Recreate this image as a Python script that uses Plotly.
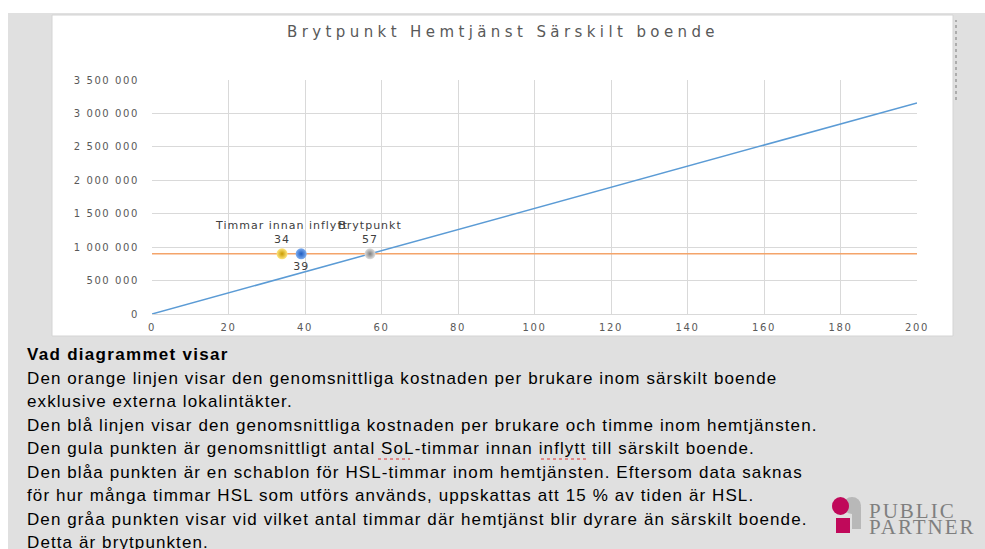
import plotly.graph_objects as go

W, H = 985, 549

# ---- data ----
hours_line = [0, 200]
hemtjanst_cost = [0, 3158000]          # blue line: cost per user by hours in home care
sarskilt_cost = [900000, 900000]       # orange line: average cost per user in special housing
point_names = ["Timmar innan inflytt", "", "Brytpunkt"]
point_hours = [34, 39, 57]
point_cost = [900000, 900000, 900000]
x_ticks = [0, 20, 40, 60, 80, 100, 120, 140, 160, 180, 200]
y_ticks = [0, 500000, 1000000, 1500000, 2000000, 2500000, 3000000, 3500000]

chart_title = "Brytpunkt Hemtjänst Särskilt boende"
heading = "Vad diagrammet visar"
body_lines = [
    "Den orange linjen visar den genomsnittliga kostnaden per brukare inom särskilt boende",
    "exklusive externa lokalintäkter.",
    "Den blå linjen visar den genomsnittliga kostnaden per brukare och timme inom hemtjänsten.",
    "Den gula punkten är genomsnittligt antal SoL-timmar innan inflytt till särskilt boende.",
    "Den blåa punkten är en schablon för HSL-timmar inom hemtjänsten. Eftersom data saknas",
    "för hur många timmar HSL som utförs används, uppskattas att 15 % av tiden är HSL.",
    "Den gråa punkten visar vid vilket antal timmar där hemtjänst blir dyrare än särskilt boende.",
    "Detta är brytpunkten.",
]

def px(x):
    return x / W

def py(y):
    return 1 - y / H

fig = go.Figure()

fig.add_trace(go.Scatter(x=hours_line, y=hemtjanst_cost, mode="lines",
                         line=dict(color="#5B9BD5", width=1.5), showlegend=False, hoverinfo="skip"))
fig.add_trace(go.Scatter(x=hours_line, y=sarskilt_cost, mode="lines",
                         line=dict(color="#F4A46A", width=1.5), showlegend=False, hoverinfo="skip"))

marker_cols = [("#FFE680", "#C89A00"), ("#7FAEF0", "#1F5CC0"), ("#E0E0E0", "#7F7F7F")]
positions = ["top center", "bottom center", "top center"]
for i in range(3):
    label = (point_names[i] + "<br>" if point_names[i] else "") + str(point_hours[i])
    fig.add_trace(go.Scatter(
        x=[point_hours[i]], y=[point_cost[i]], mode="markers+text",
        marker=dict(size=11, color=marker_cols[i][0],
                    gradient=dict(type="radial", color=marker_cols[i][1]),
                    line=dict(width=0)),
        text=[label], textposition=positions[i],
        textfont=dict(family="DejaVu Sans", size=11, color="#404040"),
        showlegend=False, hoverinfo="skip"))

shapes = [
    # gray slide background
    dict(type="rect", xref="paper", yref="paper", x0=px(8), x1=px(990), y0=py(555), y1=py(13),
         fillcolor="#E0E0E0", line=dict(width=0), layer="below"),
    # white chart box
    dict(type="rect", xref="paper", yref="paper", x0=px(52), x1=px(953), y0=py(336), y1=py(15),
         fillcolor="#FFFFFF", line=dict(color="#D4D4D4", width=1), layer="below"),
    # dotted handle line at right
    dict(type="line", xref="paper", yref="paper", x0=px(956), x1=px(956), y0=py(100), y1=py(20),
         line=dict(color="#9A9A9A", width=1.5, dash="dot"), layer="below"),
    # spell-check underlines
    dict(type="line", xref="paper", yref="paper", x0=px(378), x1=px(410), y0=py(459), y1=py(459),
         line=dict(color="#E03030", width=1, dash="dot"), layer="above"),
    dict(type="line", xref="paper", yref="paper", x0=px(541), x1=px(588), y0=py(459), y1=py(459),
         line=dict(color="#E03030", width=1, dash="dot"), layer="above"),
    # logo icon
    dict(type="circle", xref="paper", yref="paper", x0=px(843), x1=px(861), y0=py(514), y1=py(497),
         fillcolor="#B8B8B8", line=dict(width=0), layer="above"),
    dict(type="rect", xref="paper", yref="paper", x0=px(852), x1=px(861), y0=py(529), y1=py(507),
         fillcolor="#B8B8B8", line=dict(width=0), layer="above"),
    dict(type="circle", xref="paper", yref="paper", x0=px(832), x1=px(849), y0=py(515), y1=py(497),
         fillcolor="#C0095A", line=dict(width=0), layer="above"),
    dict(type="rect", xref="paper", yref="paper", x0=px(836), x1=px(850), y0=py(533), y1=py(518),
         fillcolor="#C0095A", line=dict(width=0), layer="above"),
]

annotations = [
    dict(xref="paper", yref="paper", x=px(25), y=py(354), xanchor="left", yanchor="middle",
         text="<b>" + heading + "</b>", showarrow=False,
         font=dict(family="Liberation Sans", size=17, color="#000000")),
    dict(xref="paper", yref="paper", x=px(867), y=py(511), xanchor="left", yanchor="middle",
         text="PUBLIC", showarrow=False,
         font=dict(family="Liberation Serif", size=21, color="#7F7F7F")),
    dict(xref="paper", yref="paper", x=px(867), y=py(527), xanchor="left", yanchor="middle",
         text="PARTNER", showarrow=False,
         font=dict(family="Liberation Serif", size=21, color="#7F7F7F")),
]
for k, line in enumerate(body_lines):
    annotations.append(dict(xref="paper", yref="paper", x=px(25), y=py(378 + 23.5 * k),
                            xanchor="left", yanchor="middle", text=line, showarrow=False,
                            font=dict(family="Liberation Sans", size=17, color="#000000")))

axis_font = dict(family="DejaVu Sans", size=10, color="#595959")
fig.update_layout(
    width=W, height=H,
    margin=dict(l=0, r=0, t=0, b=0, pad=0),
    paper_bgcolor="#FFFFFF", plot_bgcolor="#FFFFFF",
    separators=", ",
    title=dict(text=chart_title, x=px(503), y=py(32), xanchor="center", yanchor="middle",
               font=dict(family="DejaVu Sans", size=15, color="#595959"), automargin=False),
    xaxis=dict(domain=[px(152), px(917)], range=[0, 200], tickvals=x_ticks, automargin=False,
               showgrid=True, gridcolor="#D9D9D9", gridwidth=1, zeroline=False,
               showline=True, linecolor="#D9D9D9", mirror=False,
               tickfont=axis_font, ticks="", ticklabelstandoff=4),
    yaxis=dict(domain=[py(314), py(80)], range=[0, 3500000], tickvals=y_ticks, automargin=False,
               tickformat=",d", showgrid=True, gridcolor="#D9D9D9", gridwidth=1, zeroline=False,
               showline=False, tickfont=axis_font, ticks="", ticklabelstandoff=12),
    shapes=shapes, annotations=annotations,
)

post = """
document.documentElement.style.margin='0';
document.body.style.margin='0';
document.body.style.overflow='hidden';
document.documentElement.style.overflow='hidden';
document.querySelectorAll('.gtitle').forEach(function(e){e.style.letterSpacing='4.4px';});
document.querySelectorAll('.xtick text, .ytick text').forEach(function(e){e.style.letterSpacing='1.6px';});
document.querySelectorAll('.textpoint text').forEach(function(e){e.style.letterSpacing='1px';});
document.querySelectorAll('.annotation-text').forEach(function(e){
  var t = e.textContent;
  var ls = 1.1;
  if (t === 'PUBLIC' || t === 'PARTNER') { ls = 2.0; }
  else if (t === 'Vad diagrammet visar') { ls = 1.3; }
  e.style.letterSpacing = ls + 'px';
  var x = parseFloat(e.getAttribute('x'));
  if (!isNaN(x)) { e.setAttribute('x', x + t.length * ls / 2); }
});
"""
fig.write_html("out.html", post_script=post, config={"displayModeBar": False})
